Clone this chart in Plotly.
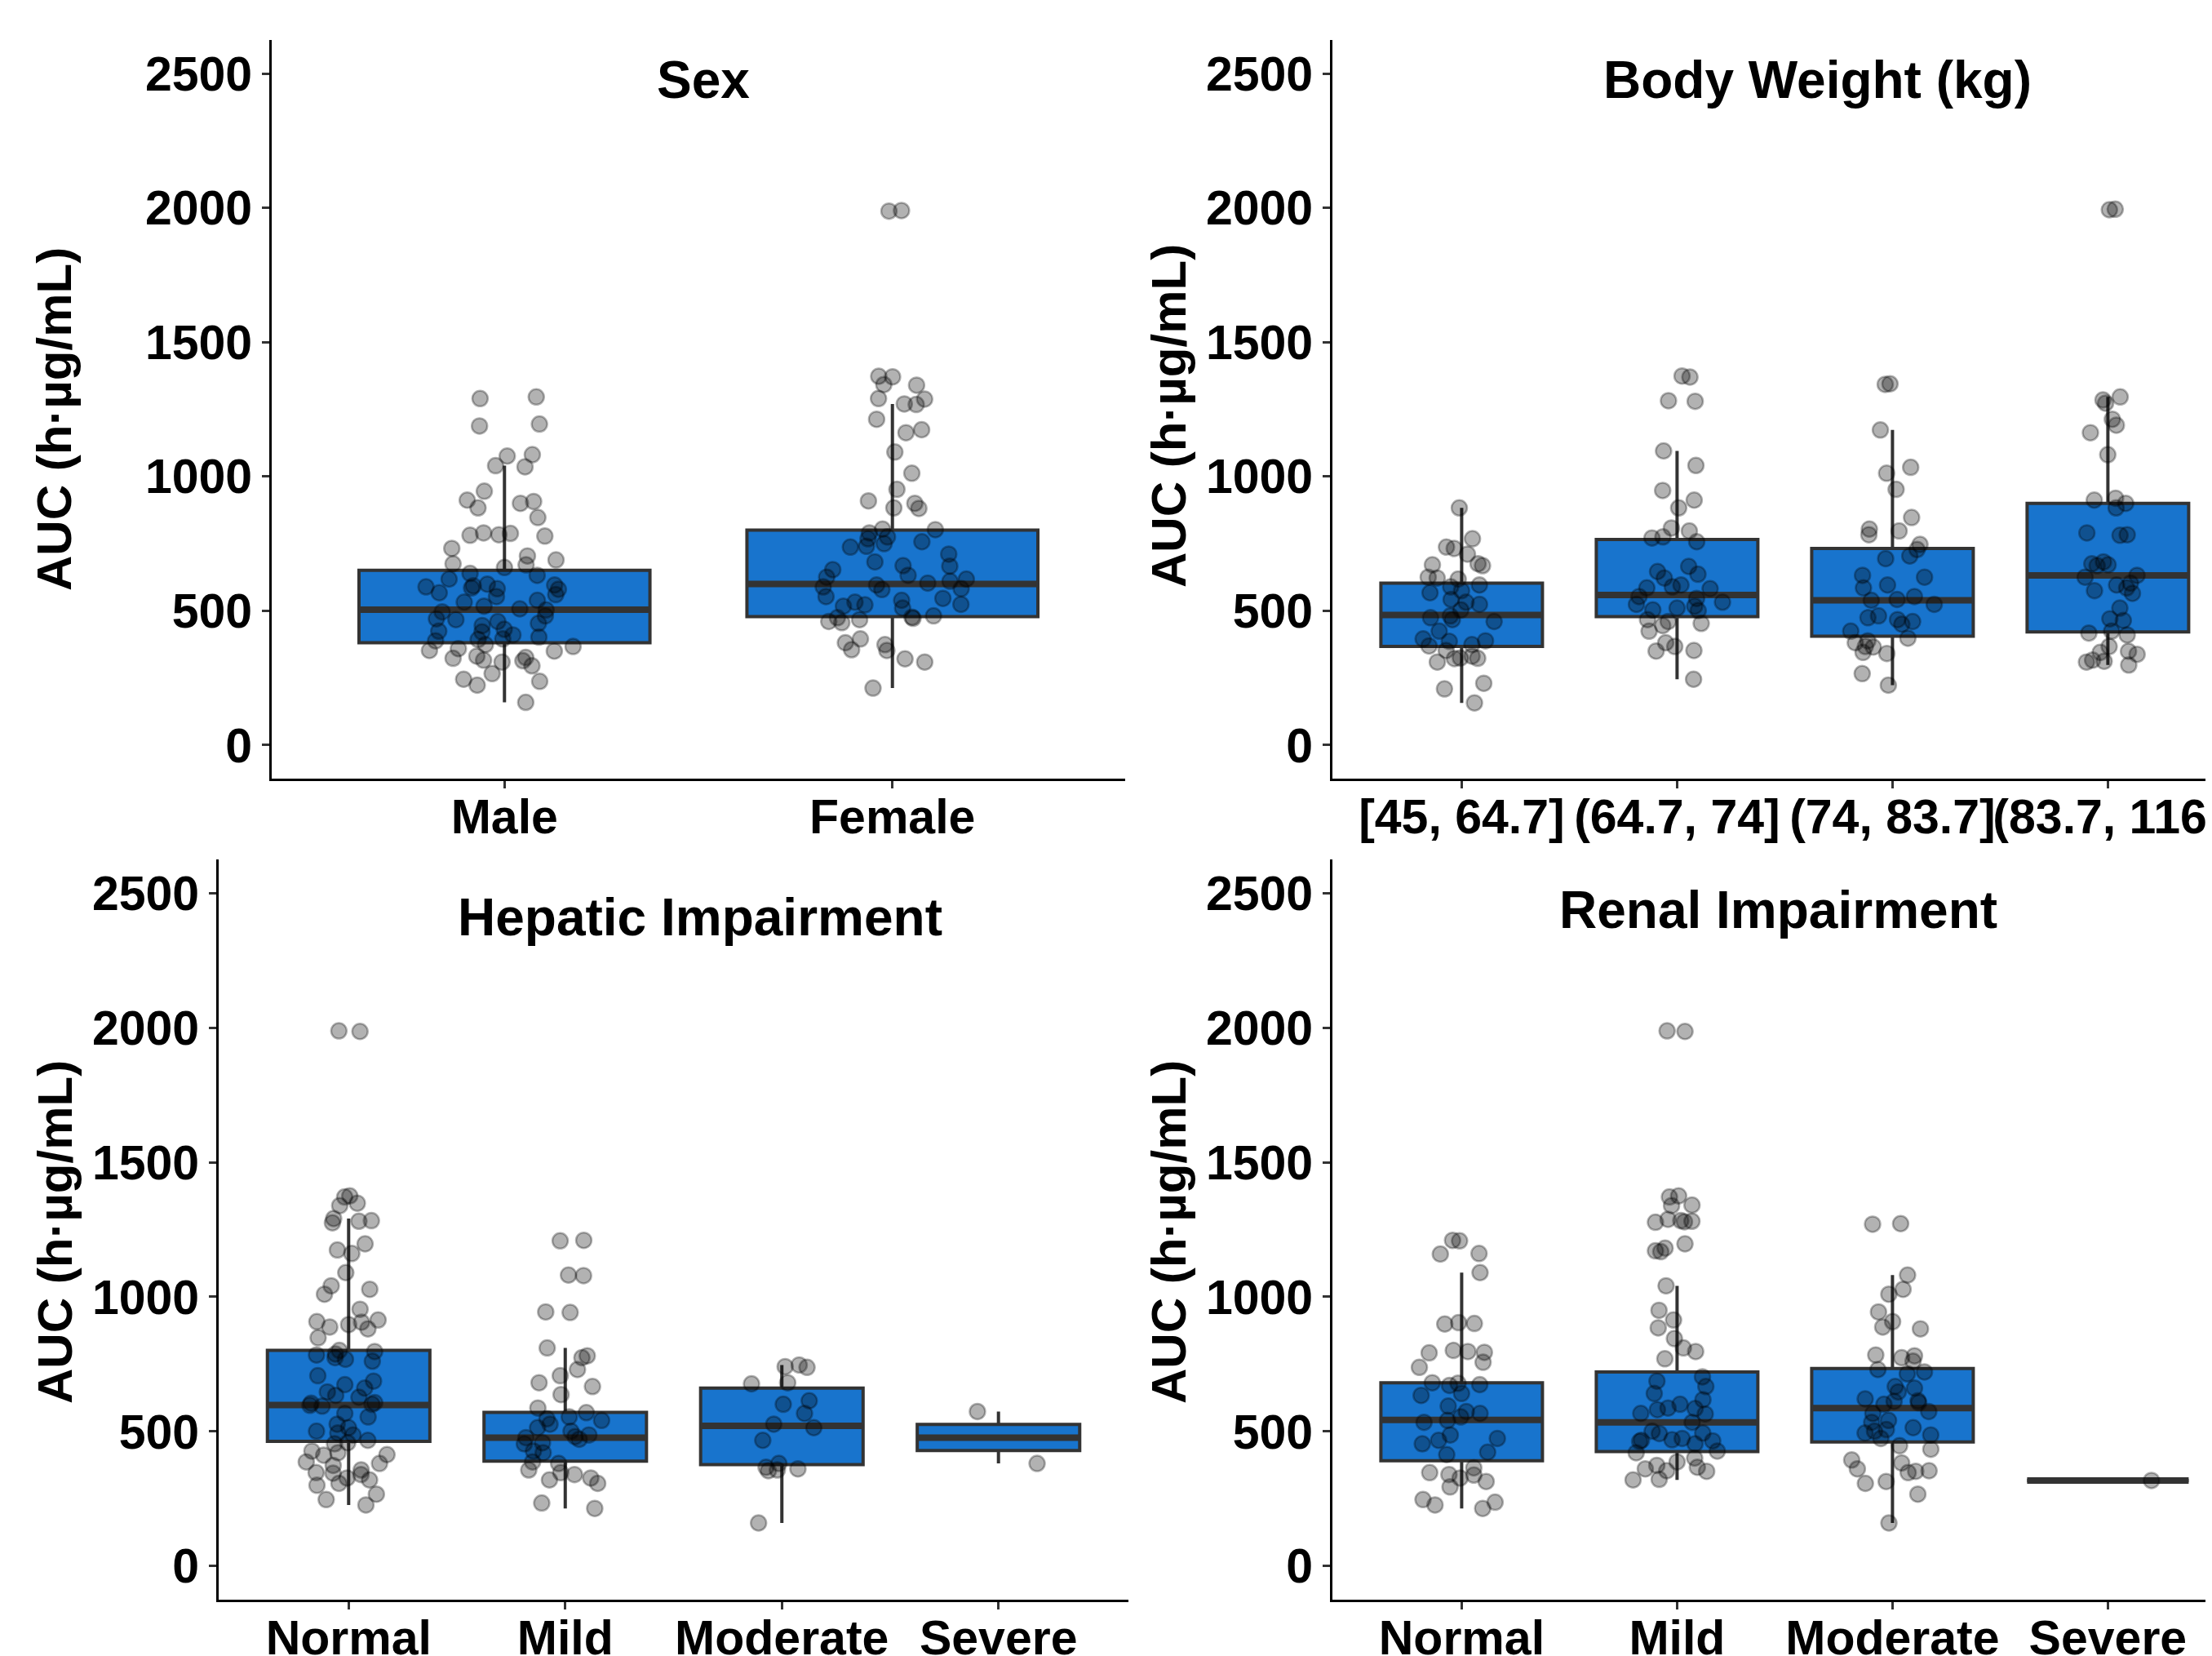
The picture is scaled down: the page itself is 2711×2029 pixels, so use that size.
import plotly.graph_objects as go

FONT = "Liberation Sans, Arial, sans-serif"
W, H = 2711, 2029
OFF = 8  # the page body margin shifts the figure by this many pixels

# ------------------------------------------------------------------ data
y_title = "AUC (h·µg/mL)"
y_ticks = [0, 500, 1000, 1500, 2000, 2500]

# Panel 1: Sex
sex_title = "Sex"
sex_categories = ["Male", "Female"]
auc_male = [1296, 1290, 1195, 1188, 1081, 1076, 1040, 1036, 945, 912, 900, 907, 883, 847,
            790, 783, 788, 778, 781, 732, 704, 689, 671, 675, 661, 639, 632, 596, 599, 582,
            585, 618, 589, 593, 580, 567, 560, 553, 532, 539, 517, 503, 507, 496, 481, 467,
            470, 460, 453, 445, 431, 424, 421, 410, 402, 395, 388, 393, 374, 359, 352, 367,
            350, 331, 326, 316, 323, 309, 295, 314, 266, 245, 237, 223, 159]
auc_female = [1990, 1988, 1373, 1371, 1342, 1340, 1290, 1288, 1270, 1268, 1213, 1174, 1163,
              1091, 1012, 952, 909, 900, 883, 881, 804, 802, 790, 768, 775, 757, 750, 737,
              740, 711, 682, 668, 666, 653, 632, 625, 618, 610, 603, 596, 589, 582, 579, 553,
              546, 539, 532, 524, 517, 522, 510, 481, 474, 472, 467, 460, 456, 476, 395, 381,
              374, 355, 352, 321, 309, 212]
sex_q1 = [381, 478]
sex_median = [504, 600]
sex_q3 = [651, 800]
sex_lower = [159, 212]
sex_upper = [1040, 1270]

# Panel 2: Body weight
bw_title = "Body Weight (kg)"
bw_categories = ["[45, 64.7]", "(64.7, 74]", "(74, 83.7]", "(83.7, 116]"]
auc_bw1 = [883, 768, 732, 737, 711, 675, 671, 668, 622, 618, 625, 596, 589, 575, 567, 542,
           532, 524, 503, 481, 474, 467, 460, 424, 395, 388, 386, 374, 369, 352, 324, 322,
           331, 323, 309, 230, 209, 157]
auc_bw2 = [1374, 1370, 1282, 1280, 1095, 1041, 948, 912, 883, 808, 797, 775, 771, 757, 665,
           646, 636, 622, 596, 589, 585, 582, 553, 546, 532, 524, 517, 510, 503, 501, 467,
           460, 453, 445, 424, 381, 367, 352, 350, 245]
auc_bw3 = [1345, 1343, 1173, 1034, 1012, 952, 847, 804, 797, 783, 747, 728, 704, 694, 632,
           625, 596, 585, 553, 542, 539, 524, 481, 474, 467, 460, 450, 424, 398, 388, 381,
           367, 365, 345, 341, 266, 223]
auc_bw4 = [1995, 1993, 1285, 1296, 1273, 1213, 1191, 1163, 1081, 919, 912, 900, 883, 790,
           783, 781, 682, 675, 671, 668, 632, 625, 603, 596, 585, 575, 565, 510, 470, 464,
           424, 417, 410, 367, 345, 338, 349, 316, 309, 298, 312]
bw_q1 = [367, 478, 405, 421]
bw_median = [484, 559, 539, 632]
bw_q3 = [603, 765, 732, 900]
bw_lower = [157, 245, 223, 298]
bw_upper = [883, 1095, 1173, 1296]

# Panel 3: Hepatic impairment
hep_title = "Hepatic Impairment"
hep_categories = ["Normal", "Mild", "Moderate", "Severe"]
auc_hep_normal = [1988, 1986, 1375, 1371, 1348, 1339, 1291, 1281, 1275, 1283, 1197, 1174,
                  1161, 1090, 1041, 1028, 1010, 954, 914, 908, 897, 906, 881, 888, 848, 801,
                  797, 788, 768, 784, 774, 761, 707, 674, 687, 661, 647, 634, 627, 607, 605,
                  594, 601, 597, 567, 554, 527, 514, 501, 494, 487, 467, 458, 454, 427, 421,
                  414, 412, 387, 381, 374, 357, 347, 345, 340, 327, 320, 300, 307, 267, 247,
                  227]
auc_hep_mild = [1210, 1208, 1081, 1079, 944, 942, 810, 774, 781, 730, 707, 681, 667, 637, 587,
                570, 554, 547, 541, 527, 514, 501, 487, 481, 471, 477, 458, 454, 427, 421, 387,
                381, 357, 347, 340, 327, 320, 307, 234, 214]
auc_hep_moderate = [747, 741, 738, 681, 677, 614, 601, 567, 527, 514, 467, 381, 367, 361, 357,
                    354, 160]
auc_hep_severe = [574, 381]
hep_q1 = [463, 390, 377, 429]
hep_median = [598, 477, 521, 477]
hep_q3 = [801, 571, 661, 526]
hep_lower = [227, 214, 160, 381]
hep_upper = [1291, 810, 747, 574]

# Panel 4: Renal impairment
ren_title = "Renal Impairment"
ren_categories = ["Normal", "Mild", "Moderate", "Severe"]
auc_ren_normal = [1210, 1208, 1161, 1159, 1090, 904, 901, 899, 794, 792, 801, 797, 757, 738,
                  681, 679, 674, 671, 641, 634, 594, 574, 567, 554, 541, 534, 487, 467, 474,
                  454, 423, 414, 365, 347, 340, 338, 327, 314, 294, 247, 237, 227, 214]
auc_ren_mild = [1988, 1986, 1371, 1375, 1341, 1339, 1281, 1279, 1283, 1288, 1277, 1197, 1181,
                1171, 1168, 1041, 950, 914, 885, 845, 810, 797, 770, 703, 687, 667, 641, 618,
                601, 587, 585, 581, 567, 565, 534, 501, 494, 474, 467, 465, 469, 463, 492,
                454, 427, 421, 401, 387, 374, 367, 361, 354, 352, 322, 320]
auc_ren_moderate = [1272, 1270, 1081, 1028, 1010, 944, 908, 888, 881, 784, 774, 781, 761, 730,
                    721, 714, 667, 661, 647, 614, 621, 607, 612, 601, 574, 567, 541, 534, 514,
                    507, 501, 494, 487, 474, 447, 434, 394, 383, 361, 354, 352, 347, 314, 307,
                    267, 160]
auc_ren_severe = [318]
ren_q1 = [391, 425, 461, 318]
ren_median = [543, 534, 587, 318]
ren_q3 = [681, 721, 734, 318]
ren_lower = [214, 320, 160, 318]
ren_upper = [1090, 1041, 1081, 318]

# ------------------------------------------------------------------ styling
BOX_FILL = "#1874CD"
BOX_LINE = "#333333"
PT_COLOR = "rgba(0,0,0,0.30)"
BOX_W = 0.75

# on-screen pixel geometry (converted to figure pixels with OFF)
panels = [
    dict(title=sex_title, cats=sex_categories, groups=[auc_male, auc_female],
         q1=sex_q1, med=sex_median, q3=sex_q3, lo=sex_lower, hi=sex_upper,
         xdom=(333, 1379), ydom=(954, 49), xr=[-0.6, 1.6], full=True,
         tpos=(862, 98), ypos=(67, 514)),
    dict(title=bw_title, cats=bw_categories, groups=[auc_bw1, auc_bw2, auc_bw3, auc_bw4],
         q1=bw_q1, med=bw_median, q3=bw_q3, lo=bw_lower, hi=bw_upper,
         xdom=(1633, None), ydom=(954, 49), xr=None, unit=264,
         tpos=(2227, 98), ypos=(1432, 510)),
    dict(title=hep_title, cats=hep_categories,
         groups=[auc_hep_normal, auc_hep_mild, auc_hep_moderate, auc_hep_severe],
         q1=hep_q1, med=hep_median, q3=hep_q3, lo=hep_lower, hi=hep_upper,
         xdom=(268, 1383), ydom=(1960, 1053), xr=[-0.6, 3.6],
         tpos=(858, 1124), ypos=(67, 1510)),
    dict(title=ren_title, cats=ren_categories,
         groups=[auc_ren_normal, auc_ren_mild, auc_ren_moderate, auc_ren_severe],
         q1=ren_q1, med=ren_median, q3=ren_q3, lo=ren_lower, hi=ren_upper,
         xdom=(1633, None), ydom=(1960, 1053), xr=None, unit=264,
         tpos=(2179, 1115), ypos=(1432, 1510)),
]

fig = go.Figure()
annotations = []
layout_axes = {}


def fx(px):
    return (px - OFF) / W


def fy(py):
    return 1 - (py - OFF) / H


for i, p in enumerate(panels, start=1):
    xa = "x" if i == 1 else f"x{i}"
    ya = "y" if i == 1 else f"y{i}"

    # box (precomputed statistics)
    fig.add_trace(go.Box(
        x=p["cats"], q1=p["q1"], median=p["med"], q3=p["q3"],
        lowerfence=p["lo"], upperfence=p["hi"],
        boxpoints=False, width=BOX_W, whiskerwidth=0,
        fillcolor=BOX_FILL, line=dict(color=BOX_LINE, width=4),
        xaxis=xa, yaxis=ya, showlegend=False, hoverinfo="skip"))
    # thicker median bar
    fig.add_trace(go.Box(
        x=p["cats"], q1=p["med"], median=p["med"], q3=p["med"],
        lowerfence=p["med"], upperfence=p["med"],
        boxpoints=False, width=BOX_W, whiskerwidth=0,
        fillcolor="rgba(0,0,0,0)", line=dict(color=BOX_LINE, width=8),
        xaxis=xa, yaxis=ya, showlegend=False, hoverinfo="skip"))
    # jittered raw points
    xs, ys = [], []
    for cat, vals in zip(p["cats"], p["groups"]):
        xs += [cat] * len(vals)
        ys += vals
    fig.add_trace(go.Box(
        x=xs, y=ys, boxpoints="all", jitter=0.6, pointpos=0, width=BOX_W,
        fillcolor="rgba(0,0,0,0)", line=dict(color="rgba(0,0,0,0)", width=0),
        marker=dict(color=PT_COLOR, size=19, line=dict(color=PT_COLOR, width=2.5)),
        xaxis=xa, yaxis=ya, showlegend=False, hoverinfo="y"))

    x0, x1 = p["xdom"]
    if x1 is None:  # panel runs past the right edge of the picture
        dom = [fx(x0), 1.0]
        xr = [-0.6, -0.6 + (W + OFF - x0) / p["unit"]]
    else:
        dom = [fx(x0), fx(x1)]
        xr = p["xr"]
    yb, yt = p["ydom"]
    layout_axes["xaxis" if i == 1 else f"xaxis{i}"] = dict(
        domain=dom, anchor=ya, type="category",
        categoryorder="array", categoryarray=p["cats"], range=xr,
        automargin=False,
        showline=True, linecolor="black", linewidth=3, showgrid=False, zeroline=False,
        ticks="outside", ticklen=9, tickwidth=2.7, tickcolor="#333333", tickangle=0,
        tickfont=dict(family=FONT, size=59, color="black", weight="bold"),
        ticklabelstandoff=-16)
    layout_axes["yaxis" if i == 1 else f"yaxis{i}"] = dict(
        domain=[fy(yb), fy(yt)], anchor=xa, range=[-125, 2625],
        automargin=False,
        tickvals=y_ticks, showline=True, linecolor="black", linewidth=3,
        showgrid=False, zeroline=False, ticks="outside", ticklen=9, tickwidth=2.7,
        tickcolor="#333333",
        tickfont=dict(family=FONT, size=59, color="black", weight="bold"),
        ticklabelstandoff=0)

    annotations.append(dict(
        text=p["title"], x=fx(p["tpos"][0]), y=fy(p["tpos"][1]),
        xref="paper", yref="paper", xanchor="center", yanchor="middle",
        showarrow=False, font=dict(family=FONT, size=64, color="black", weight="bold")))
    annotations.append(dict(
        text=y_title, x=fx(p["ypos"][0]), y=fy(p["ypos"][1]),
        xref="paper", yref="paper", xanchor="center", yanchor="middle", textangle=-90,
        showarrow=False, font=dict(family=FONT, size=60, color="black", weight="bold")))

fig.update_layout(
    width=W, height=H, margin=dict(l=0, r=0, t=0, b=0, pad=0, autoexpand=False),
    paper_bgcolor="white", plot_bgcolor="white", boxmode="overlay",
    showlegend=False, annotations=annotations, **layout_axes)

fig.write_html("out.html")
